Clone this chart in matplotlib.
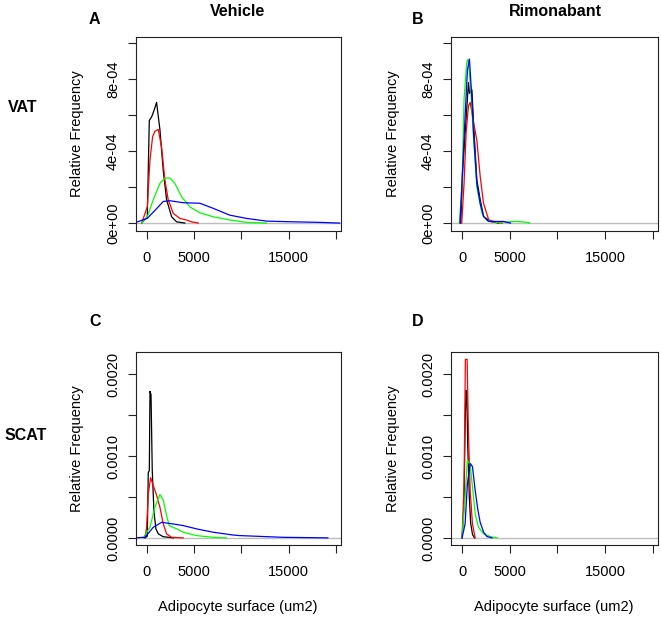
import matplotlib
matplotlib.use("Agg")
import matplotlib.pyplot as plt

plt.rcParams['font.family'] = ['Liberation Sans', 'DejaVu Sans']

W, H = 661, 619

# ---- data (x in um2, y = relative frequency) ----
# A: VAT, vehicle
a_black_x = [-560, 35, 250, 500, 780, 1020, 1370, 1730, 2080, 2610, 3140, 4010]
a_black_y = [0, 3.5e-5, 5.7e-4, 5.9e-4, 6.3e-4, 6.7e-4, 5.2e-4, 2.9e-4, 1.3e-4, 3.5e-5, 7e-6, 0]
a_red_x = [-560, 35, 320, 600, 845, 1200, 1550, 1900, 2250, 2780, 3490, 4190, 4720, 5430]
a_red_y = [0, 9e-5, 3.5e-4, 4.8e-4, 5.1e-4, 5.2e-4, 4.2e-4, 2.4e-4, 1.3e-4, 5.4e-5, 2.6e-5, 1.7e-5, 7e-6, 0]
a_green_x = [-560, 35, 670, 1370, 1900, 2430, 2960, 3670, 4545, 5600, 7010, 8770, 10540, 12650]
a_green_y = [0, 3.5e-5, 1.3e-4, 2.2e-4, 2.5e-4, 2.5e-4, 2.2e-4, 1.46e-4, 9e-5, 5.7e-5, 3.5e-5, 1.7e-5, 4e-6, 0]
a_blue_x = [-1160, 35, 1020, 1730, 2430, 3840, 5600, 7010, 8770, 10540, 12650, 15470, 18290, 20400]
a_blue_y = [4e-6, 2.6e-5, 8e-5, 1.2e-4, 1.24e-4, 1.13e-4, 1.1e-4, 8.2e-5, 4.4e-5, 2.6e-5, 1.1e-5, 7e-6, 4e-6, 0]

# B: VAT, rimonabant
b_black_x = [-140, 70, 390, 670, 780, 1030, 1200, 1550, 1900, 2250, 2960, 3840]
b_black_y = [0, 3e-4, 5.5e-4, 7.8e-4, 7.2e-4, 7.4e-4, 5.6e-4, 2.4e-4, 1.3e-4, 3.7e-5, 9e-6, 0]
b_red_x = [-35, 210, 423, 670, 850, 1200, 1550, 1900, 2250, 2790, 3670, 4200]
b_red_y = [0, 2.2e-4, 5e-4, 6.5e-4, 6.7e-4, 5.6e-4, 4.6e-4, 2.6e-4, 1.1e-4, 1.8e-5, 4e-6, 0]
b_green_x = [-280, 0, 210, 490, 630, 920, 1200, 1550, 2080, 2610, 3670, 5790, 6840, 7120]
b_green_y = [0, 2.2e-4, 6.9e-4, 8.9e-4, 9.1e-4, 7.4e-4, 4.8e-4, 2e-4, 5.6e-5, 1.3e-5, 4e-6, 9e-6, 4e-6, 0]
b_blue_x = [-210, 70, 317, 560, 775, 1030, 1200, 1550, 1900, 2250, 2790, 4370, 4720, 5080]
b_blue_y = [0, 3.1e-4, 5.9e-4, 8.5e-4, 9.1e-4, 6.9e-4, 5e-4, 2.2e-4, 1.1e-4, 3.7e-5, 9e-6, 9e-6, 4e-6, 0]

# C: SCAT, vehicle
c_black_x = [-210, 35, 140, 250, 320, 430, 560, 740, 950, 1200, 1700, 2800]
c_black_y = [0, 2e-5, 8.0e-4, 8.2e-4, 1.79e-3, 1.75e-3, 8.3e-4, 3.2e-4, 1.1e-4, 5e-5, 1.5e-5, 0]
c_red_x = [-210, -35, 140, 390, 670, 1020, 1370, 1730, 2080, 2610, 3840]
c_red_y = [0, 1.3e-4, 5.4e-4, 7.35e-4, 6.4e-4, 5.2e-4, 3.75e-4, 1.7e-4, 4.9e-5, 7e-6, 0]
c_green_x = [-390, 317, 845, 1370, 1730, 2080, 2360, 3140, 3840, 5250, 7010, 8420]
c_green_y = [0, 1.3e-4, 3.75e-4, 5.3e-4, 4.6e-4, 2.7e-4, 1.5e-4, 1.1e-4, 6.9e-5, 2.8e-5, 7e-6, 0]
c_blue_x = [-1270, -210, 670, 1550, 2780, 3840, 5250, 7010, 9120, 9830, 14400, 19160]
c_blue_y = [0, 7e-6, 1.3e-4, 1.9e-4, 1.7e-4, 1.5e-4, 1.1e-4, 6.9e-5, 3.5e-5, 2.8e-5, 7e-6, 0]

# D: SCAT, rimonabant
d_black_x = [0, 200, 330, 420, 500, 600, 760, 900, 1100, 1300]
d_black_y = [0, 4e-4, 1.45e-3, 1.8e-3, 1.75e-3, 1.1e-3, 5e-4, 1.8e-4, 4e-5, 0]
d_red_x = [0, 210, 350, 530, 670, 850, 1090, 1375]
d_red_y = [0, 6.6e-4, 2.18e-3, 2.18e-3, 1.28e-3, 5.8e-4, 1.7e-4, 0]
d_green_x = [0, 320, 560, 850, 1130, 1375, 1730, 2260, 2960, 3670]
d_green_y = [0, 5e-4, 9.5e-4, 8.9e-4, 5.8e-4, 2.9e-4, 1.3e-4, 4.9e-5, 1.6e-5, 0]
d_blue_x = [0, 320, 560, 850, 1090, 1375, 1660, 1900, 2260, 2610, 3140]
d_blue_y = [0, 1.7e-4, 6.6e-4, 9.1e-4, 8.7e-4, 5.8e-4, 3.4e-4, 1.9e-4, 7e-5, 1.6e-5, 0]

x_ticks = [0, 5000, 10000, 15000, 20000]
x_labels = ['0', '5000', '', '15000', '']
vat_ticks = [0, 2e-4, 4e-4, 6e-4, 8e-4, 1e-3]
vat_labels = ['0e+00', '', '4e-04', '', '8e-04', '']
scat_ticks = [0, 5e-4, 1e-3, 1.5e-3, 2e-3]
scat_labels = ['0.0000', '', '0.0010', '', '0.0020']

fig = plt.figure(figsize=(W / 100, H / 100), dpi=100)
fig.patch.set_facecolor('white')


def box(l, t, r, b):
    return [l / W, 1 - b / H, (r - l) / W, (b - t) / H]


def ftext(x, y, s, **kw):
    fig.text(x / W, 1 - y / H, s, ha='center', va='center', **kw)


def panel(rect, curves, yticks, ylabels, ylim):
    ax = fig.add_axes(rect)
    ax.axhline(0, color='#bebebe', lw=1, zorder=1)
    for xs, ys, c in curves:
        ax.plot(xs, ys, color=c, lw=0.9, zorder=2)
    ax.set_xlim(-1160, 20550)
    ax.set_ylim(*ylim)
    ax.set_xticks(x_ticks)
    ax.set_xticklabels(x_labels, fontsize=10.5)
    ax.set_yticks(yticks)
    ax.set_yticklabels(ylabels, fontsize=10.5, rotation=90, va='center')
    ax.tick_params(length=5.5, width=0.8, color='#222222')
    ax.tick_params(axis='x', pad=9)
    ax.tick_params(axis='y', pad=6)
    for s in ax.spines.values():
        s.set_color('#222222')
        s.set_linewidth(0.8)
    return ax


vat_lim = (-4.4e-5, 1.033e-3)
scat_lim = (-8.7e-5, 2.27e-3)

panel(box(136, 37, 341, 231),
      [(a_black_x, a_black_y, 'black'), (a_red_x, a_red_y, 'red'),
       (a_green_x, a_green_y, '#00ff00'), (a_blue_x, a_blue_y, 'blue')],
      vat_ticks, vat_labels, vat_lim)
panel(box(451, 37, 658, 231),
      [(b_black_x, b_black_y, 'black'), (b_red_x, b_red_y, 'red'),
       (b_green_x, b_green_y, '#00ff00'), (b_blue_x, b_blue_y, 'blue')],
      vat_ticks, vat_labels, vat_lim)
panel(box(136, 352, 341, 545),
      [(c_black_x, c_black_y, 'black'), (c_red_x, c_red_y, 'red'),
       (c_green_x, c_green_y, '#00ff00'), (c_blue_x, c_blue_y, 'blue')],
      scat_ticks, scat_labels, scat_lim)
panel(box(451, 352, 658, 545),
      [(d_black_x, d_black_y, 'black'), (d_red_x, d_red_y, 'red'),
       (d_green_x, d_green_y, '#00ff00'), (d_blue_x, d_blue_y, 'blue')],
      scat_ticks, scat_labels, scat_lim)

# titles, panel letters, row labels
ftext(238, 11, 'Vehicle', fontsize=11.5, fontweight='bold')
ftext(555, 11, 'Rimonabant', fontsize=11.5, fontweight='bold')
ftext(94, 20, 'A', fontsize=11.5, fontweight='bold')
ftext(418, 20, 'B', fontsize=11.5, fontweight='bold')
ftext(95, 322, 'C', fontsize=11.5, fontweight='bold')
ftext(418, 322, 'D', fontsize=11.5, fontweight='bold')
ftext(23, 108, 'VAT', fontsize=11.5, fontweight='bold')
ftext(26, 435, 'SCAT', fontsize=11.5, fontweight='bold')

# axis titles
for x, y in [(77, 134), (393, 134), (77, 449), (393, 449)]:
    ftext(x, y, 'Relative Frequency', fontsize=10.5, rotation=90)
ftext(238, 607, 'Adipocyte surface (um2)', fontsize=10.5)
ftext(554, 607, 'Adipocyte surface (um2)', fontsize=10.5)

fig.savefig('out.png', dpi=100)
